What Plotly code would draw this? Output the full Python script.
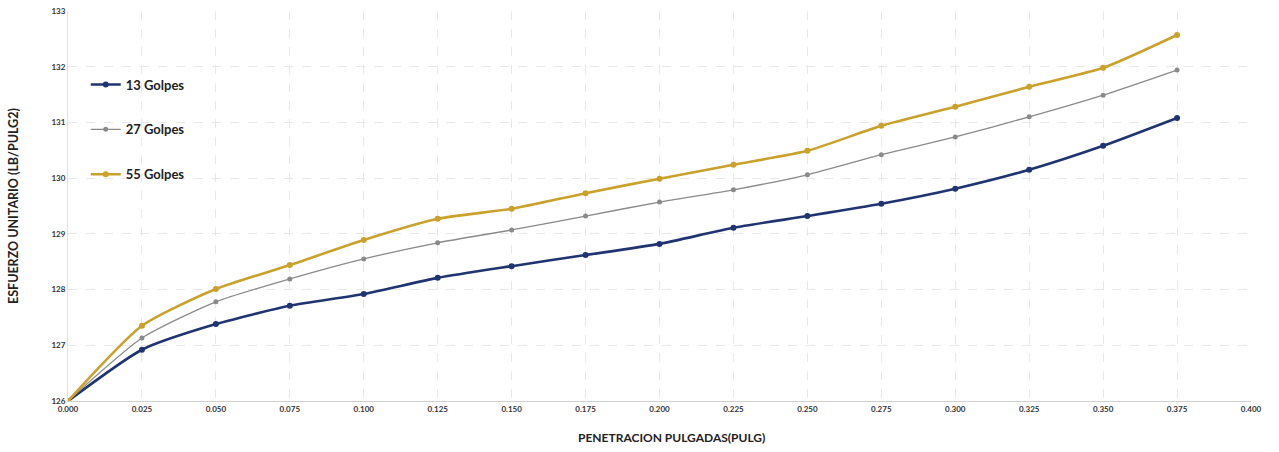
import plotly.graph_objects as go

penetracion = [0.000, 0.025, 0.050, 0.075, 0.100, 0.125, 0.150, 0.175, 0.200,
               0.225, 0.250, 0.275, 0.300, 0.325, 0.350, 0.375]
golpes_13 = [126.00, 126.92, 127.38, 127.71, 127.92, 128.21, 128.42, 128.62, 128.82,
             129.11, 129.32, 129.54, 129.81, 130.15, 130.58, 131.08]
golpes_27 = [126.00, 127.13, 127.78, 128.19, 128.55, 128.84, 129.07, 129.32, 129.57,
             129.79, 130.06, 130.42, 130.74, 131.10, 131.49, 131.94]
golpes_55 = [126.00, 127.35, 128.01, 128.44, 128.89, 129.27, 129.45, 129.73, 129.99,
             130.24, 130.49, 130.94, 131.28, 131.64, 131.98, 132.57]

x_ticks = [0.000, 0.025, 0.050, 0.075, 0.100, 0.125, 0.150, 0.175, 0.200,
           0.225, 0.250, 0.275, 0.300, 0.325, 0.350, 0.375, 0.400]
y_ticks = [126, 127, 128, 129, 130, 131, 132, 133]

series = [
    ("13 Golpes", golpes_13, "#1f3470", 2.6, 6),
    ("27 Golpes", golpes_27, "#8a8a8a", 1.3, 5),
    ("55 Golpes", golpes_55, "#c9a12b", 2.6, 6),
]

fig = go.Figure()
for i, (name, vals, color, lw, ms) in enumerate(series):
    fig.add_trace(go.Scatter(
        x=penetracion, y=vals, name=name, mode="lines+markers",
        legendgroup=f"g{i}",
        line=dict(color=color, width=lw, shape="spline", smoothing=0.6),
        marker=dict(color=color, size=ms),
    ))

fig.update_layout(
    width=1279, height=452,
    margin=dict(l=68, r=28, t=11, b=51),
    paper_bgcolor="white", plot_bgcolor="white",
    font=dict(family="Lato, Liberation Sans, sans-serif", color="#222"),
    legend=dict(
        x=0.015, y=0.85, xanchor="left", yanchor="top",
        bgcolor="rgba(0,0,0,0)",
        font=dict(size=13, color="#222", family="Lato, sans-serif", weight="bold"),
        tracegroupgap=25, itemwidth=30,
    ),
    showlegend=True,
    xaxis=dict(
        range=[0, 0.4], tickvals=x_ticks, tickformat=".3f", automargin=False,
        tickfont=dict(size=8, color="#333", weight="bold"),
        showgrid=True, gridcolor="#e8e8e8", griddash="dash", gridwidth=1,
        showline=True, linecolor="#d0d0d0", zeroline=False,
        ticks="", ticklen=0,
    ),
    yaxis=dict(
        range=[126, 133], tickvals=y_ticks, automargin=False,
        tickfont=dict(size=8, color="#333", weight="bold"),
        showgrid=True, gridcolor="#e8e8e8", griddash="dash", gridwidth=1,
        showline=True, linecolor="#e3e3e3", zeroline=False,
        ticks="", ticklen=0,
    ),
)

fig.add_annotation(
    text="ESFUERZO UNITARIO (LB/PULG2)", xref="paper", yref="paper",
    x=-0.0465, y=0.5, xanchor="center", yanchor="middle", showarrow=False,
    textangle=-90, font=dict(size=12.5, color="#222", weight="bold"),
)
fig.add_annotation(
    text="PENETRACION PULGADAS(PULG)", xref="paper", yref="paper",
    x=0.51, y=-0.093, xanchor="center", yanchor="middle", showarrow=False,
    font=dict(size=12, color="#222", weight="bold"),
)

fig.write_html("out.html", config={"displayModeBar": False},
               post_script="document.body.style.margin='0';")
